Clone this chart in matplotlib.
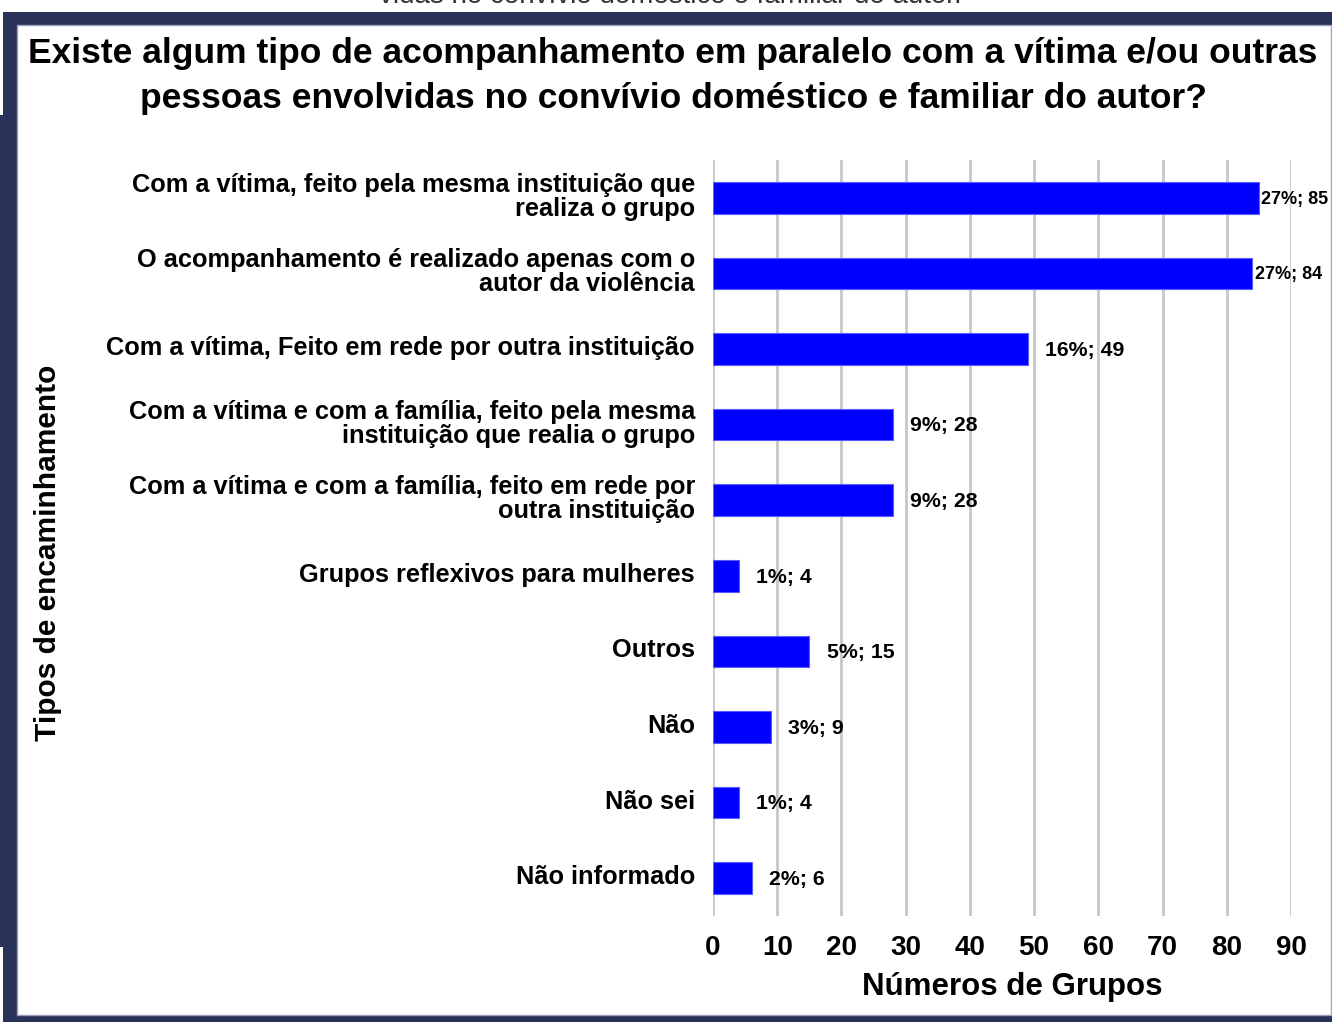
import matplotlib
matplotlib.use("Agg")
import matplotlib.pyplot as plt
import matplotlib.transforms as mtransforms
from matplotlib.patches import Rectangle

# ─── Data ─────────────────────────────────────────────────────────────────────
categories = [
    "Com a vítima, feito pela mesma instituição que\nrealiza o grupo",
    "O acompanhamento é realizado apenas com o\nautor da violência",
    "Com a vítima, Feito em rede por outra instituição",
    "Com a vítima e com a família, feito pela mesma\ninstituição que realia o grupo",
    "Com a vítima e com a família, feito em rede por\noutra instituição",
    "Grupos reflexivos para mulheres",
    "Outros",
    "Não",
    "Não sei",
    "Não informado",
]
counts = [85, 84, 49, 28, 28, 4, 15, 9, 4, 6]
percents = [27, 27, 16, 9, 9, 1, 5, 3, 1, 2]
x_ticks = [0, 10, 20, 30, 40, 50, 60, 70, 80, 90]

title = ("Existe algum tipo de acompanhamento em paralelo com a vítima e/ou outras\n"
         "pessoas envolvidas no convívio doméstico e familiar do autor?")
cut_caption = "vidas no convívio doméstico e familiar do autor."

W, H = 1332, 1022
NAVY = "#29335a"
plt.rcParams["font.family"] = ["Liberation Sans", "DejaVu Sans"]

fig = plt.figure(figsize=(W / 100, H / 100), dpi=100)


def fx(px):
    return px / W


def fy(py):
    return 1 - py / H


# ─── Frame around the chart ───────────────────────────────────────────────────
bg = fig.add_axes([0, 0, 1, 1])
bg.set_xlim(0, W); bg.set_ylim(H, 0); bg.axis("off")
bg.add_patch(Rectangle((3, 12), W - 3, H - 12, color=NAVY, lw=0))
bg.add_patch(Rectangle((0, 115), 4, 832, color=NAVY, lw=0))
bg.add_patch(Rectangle((17, 25), W - 18, 990, facecolor="white",
                       edgecolor="#9aa0b8", lw=1))

# caption of the page, cut off by the top edge as in the source
fig.text(fx(670), fy(3), cut_caption, ha="center", va="baseline",
         fontsize=20, color="#333333")

fig.text(fx(673), fy(76), title, ha="center", va="center", fontsize=25.5,
         fontweight="bold", linespacing=1.45, color="black")

# ─── Bars ─────────────────────────────────────────────────────────────────────
ax = fig.add_axes([fx(713), fy(916), (1291 - 713) / W, (916 - 160) / H])
ypos = list(range(len(categories)))
ax.barh(ypos, counts, height=0.42, color="#0000ff", edgecolor="#5a5aff",
        lw=0.8, zorder=3)
ax.set_ylim(len(categories) - 0.5, -0.5)
ax.set_xlim(0, 90)
ax.set_xticks(x_ticks)
ax.set_xticklabels([str(t) for t in x_ticks], fontsize=20, fontweight="bold")
ax.tick_params(axis="x", length=0, pad=14)
ax.set_yticks(ypos)
ax.set_yticklabels(categories, fontsize=18.3, fontweight="bold", linespacing=1.0)
ax.tick_params(axis="y", length=0, pad=13)
# labels sit a touch above the bar centres in the source
lift = mtransforms.ScaledTranslation(0, 3.5 / 100, fig.dpi_scale_trans)
for lbl in ax.get_yticklabels():
    lbl.set_transform(lbl.get_transform() + lift)
ax.grid(axis="x", color="#c8c8c8", lw=2, zorder=0)
for s in ax.spines.values():
    s.set_visible(False)

for y, c, p in zip(ypos, counts, percents):
    near_edge = c > 80
    ax.annotate(f"{p}%; {c}", (c, y), xytext=(1.5 if near_edge else 12.5, -1),
                textcoords="offset points", ha="left", va="center",
                fontsize=13 if near_edge else 15.3, fontweight="bold",
                annotation_clip=False)

fig.text(fx(1012), fy(987), "Números de Grupos", ha="center", va="center",
         fontsize=22.5, fontweight="bold")
fig.text(fx(48), fy(553), "Tipos de encaminhamento", ha="center", va="center",
         rotation=90, fontsize=21.5, fontweight="bold")

fig.savefig("out.png", dpi=100)
